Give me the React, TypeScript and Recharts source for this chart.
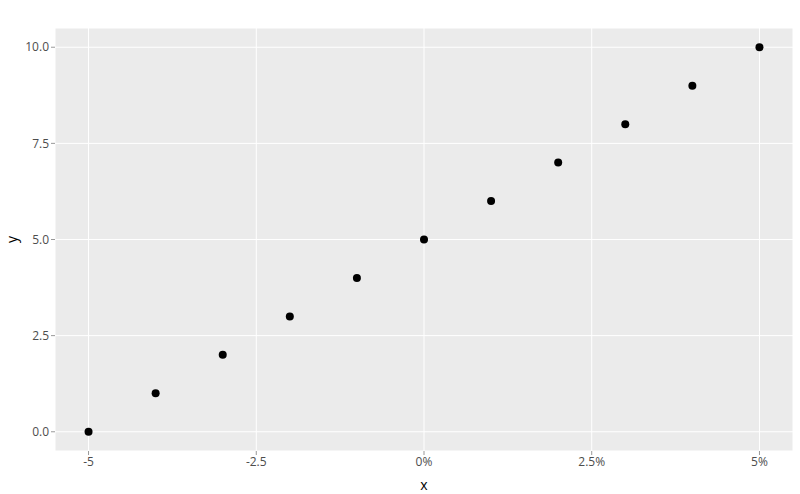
import { ScatterChart, Scatter, XAxis, YAxis, CartesianGrid, Label } from 'recharts';

const xValues = [-5, -4, -3, -2, -1, 0, 1, 2, 3, 4, 5];
const yValues = [0, 1, 2, 3, 4, 5, 6, 7, 8, 9, 10];
const xTicks = [-5, -2.5, 0, 2.5, 5];
const xTickLabels = ['-5', '-2.5', '0%', '2.5%', '5%'];
const yTicks = [0, 2.5, 5, 7.5, 10];
const yTickLabels = ['0.0', '2.5', '5.0', '7.5', '10.0'];

const points = xValues.map((x, i) => ({ x, y: yValues[i] }));

const tickStyle = { fill: '#4d4d4d', fontSize: 12, fontFamily: '"Open Sans", sans-serif' };

export default function App() {
  return (
    <div style={{ position: 'absolute', left: 0, top: 0, width: 800, height: 494, background: '#fff' }}>
      <ScatterChart width={800} height={494} margin={{ top: 28, right: 7, left: 0, bottom: 0 }}>
        <CartesianGrid fill="#EBEBEB" stroke="#ffffff" strokeWidth={1} />
        <XAxis
          type="number"
          dataKey="x"
          domain={[-5.5, 5.5]}
          ticks={xTicks}
          tickFormatter={(v: number) => xTickLabels[xTicks.indexOf(v)]}
          axisLine={false}
          tickLine={{ stroke: '#999' }}
          tickSize={4}
          tick={tickStyle}
          height={43}
          allowDataOverflow
        >
          <Label value="x" position="insideBottom" offset={4} style={{ fill: '#000', fontSize: 14, fontFamily: '"Open Sans", sans-serif' }} />
        </XAxis>
        <YAxis
          type="number"
          dataKey="y"
          domain={[-0.5, 10.5]}
          ticks={yTicks}
          tickFormatter={(v: number) => yTickLabels[yTicks.indexOf(v)]}
          axisLine={false}
          tickLine={{ stroke: '#999' }}
          tickSize={4}
          tick={tickStyle}
          width={55}
          allowDataOverflow
        >
          <Label value="y" angle={-90} position="insideLeft" offset={12} style={{ fill: '#000', fontSize: 14, fontFamily: '"Open Sans", sans-serif', textAnchor: 'middle' }} />
        </YAxis>
        <Scatter
          data={points}
          fill="#000"
          isAnimationActive={false}
          shape={(props: any) => <circle cx={props.cx} cy={props.cy} r={4} fill="#000" />}
        />
      </ScatterChart>
    </div>
  );
}
